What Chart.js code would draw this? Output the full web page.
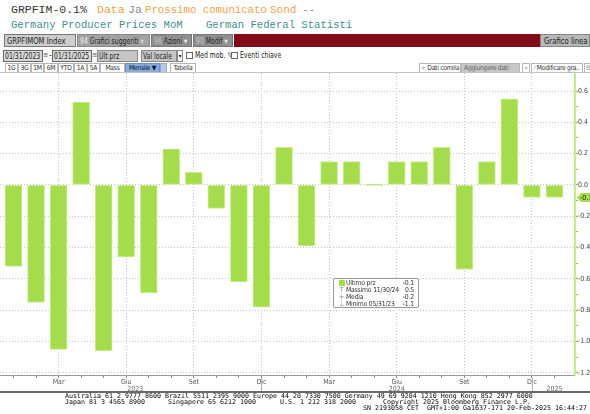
<!DOCTYPE html>
<html lang="it">
<head>
<meta charset="UTF-8">
<title>GRPFIMOM Index</title>
<script src="https://cdn.jsdelivr.net/npm/chart.js"></script>
<style>
  body { margin:0; width:590px; height:414px; position:relative; overflow:hidden; background:#fff; }
  .a { position:absolute; white-space:nowrap; }
  .mono { font-family:"Liberation Mono","DejaVu Sans Mono",monospace; }
  .ui { font-family:"DejaVu Sans Condensed",sans-serif; font-stretch:condensed; font-size:8.5px; line-height:12px; color:#222; box-sizing:border-box; overflow:hidden; }
  .sq { display:inline-block; transform:scaleX(0.8); transform-origin:0 50%; }
  .btn { font-family:"DejaVu Sans Condensed",sans-serif; font-stretch:condensed; font-size:6.8px; letter-spacing:-0.3px; line-height:8px; color:#333; box-sizing:border-box; border:1px solid #b5b5b5; background:#fff; text-align:center; height:10px; top:63px; overflow:hidden; }
  .foot { font-family:"DejaVu Sans Mono",monospace; font-size:6.65px; line-height:6px; color:#000; }
  #legend { position:absolute; left:333px; top:278px; width:86px; height:30px; box-sizing:border-box; border:1px solid #9a9a9a; border-radius:2px; background:#fff;
            font-family:"DejaVu Sans Condensed",sans-serif; font-size:6.8px; letter-spacing:-0.2px; color:#333; }
  #legend div { position:absolute; left:3px; right:4px; height:7px; line-height:7px; }
  #legend span.r { position:absolute; right:0; }
  #legend i { display:inline-block; width:9px; font-style:normal; color:#888; text-align:center; }
</style>
</head>
<body>
<!-- intestazione -->
<div class="a mono" style="left:11px;top:3px;font-size:11.5px;line-height:14px;color:#333">GRPFIM-0.1%</div>
<div class="a mono" style="left:97px;top:3px;font-size:11.5px;line-height:14px;color:#f3a04c">Data</div>
<div class="a mono" style="left:128px;top:3px;font-size:11.5px;line-height:14px;color:#8a8a8a">Ja</div>
<div class="a mono" style="left:145px;top:3px;font-size:10.7px;line-height:14px;color:#f3a04c">Prossimo comunicato</div>
<div class="a mono" style="left:270px;top:3px;font-size:11px;line-height:14px;color:#f3a04c">Sond</div>
<div class="a mono" style="left:302px;top:3px;font-size:11px;line-height:14px;color:#8a8a8a">--</div>
<div class="a mono" style="left:11px;top:18px;font-size:10.6px;line-height:14px;color:#3f8f92">Germany Producer Prices MoM</div>
<div class="a mono" style="left:206px;top:18px;font-size:10.6px;line-height:14px;color:#3f8f92">German Federal Statisti</div>

<!-- barra strumenti -->
<div class="a ui" style="left:4px;top:34px;width:72px;height:13px;background:#cdcdcd;border:1px solid #777;padding-left:2px"><span class="sq" style="transform:scaleX(0.9)">GRPFIMOM Index</span></div>
<div class="a ui" style="left:77px;top:34px;width:73px;height:13px;background:#a2a2a2;border:1px solid #888;padding-left:2px"><span class="sq"><span style="color:#eee">94</span> Grafici suggeriti <span style="color:#ddd">▾</span></span></div>
<div class="a ui" style="left:151px;top:34px;width:41px;height:13px;background:#8f8f8f;border:1px solid #777;padding-left:2px"><span class="sq"><span style="color:#ccc">96</span> Azioni <span style="color:#eee">▾</span></span></div>
<div class="a ui" style="left:193px;top:34px;width:40px;height:13px;background:#8f8f8f;border:1px solid #777;padding-left:2px"><span class="sq"><span style="color:#ccc">90</span> Modif <span style="color:#eee">▾</span></span></div>
<div class="a" style="left:234px;top:34px;width:306px;height:13px;background:#820a19"></div>
<div class="a ui" style="left:540px;top:34px;width:50px;height:13px;background:#b8b8b8;border:1px solid #888;padding-left:3px"><span class="sq" style="transform:scaleX(0.9)">Grafico linea</span></div>

<div class="a ui" style="left:3px;top:50px;width:40px;height:12px;line-height:10px;background:#dadada;border:1px solid #666;padding-left:1px"><span class="sq">01/31/2023</span></div>
<div class="a ui" style="left:43px;top:50px;width:5px;height:12px;line-height:10px;font-size:7px;color:#555">≡</div>
<div class="a ui" style="left:49px;top:50px;line-height:10px">-</div>
<div class="a ui" style="left:52px;top:50px;width:40px;height:12px;line-height:10px;background:#dadada;border:1px solid #666;padding-left:1px"><span class="sq">01/31/2025</span></div>
<div class="a ui" style="left:92px;top:50px;width:5px;height:12px;line-height:10px;font-size:7px;color:#555">≡</div>
<div class="a ui" style="left:97px;top:50px;width:41px;height:12px;line-height:10px;background:#c6c6c6;border:1px solid #888;padding-left:1px"><span class="sq">Ult prz</span></div>
<div class="a ui" style="left:141px;top:50px;width:36px;height:12px;line-height:10px;background:#c6c6c6;border:1px solid #888;padding-left:1px"><span class="sq">Val locale</span></div>
<div class="a ui" style="left:177px;top:50px;width:6px;height:12px;line-height:10px;background:#fff;border:1px solid #888;font-size:6px;text-align:center">▾</div>
<div class="a ui" style="left:186px;top:52px;width:7px;height:7px;border:1px solid #666;background:#fff"></div>
<div class="a ui" style="left:195px;top:50px;line-height:11px;overflow:visible"><span class="sq">Med mob. <span style="color:#666">✎</span></span></div>
<div class="a ui" style="left:231px;top:52px;width:7px;height:7px;border:1px solid #666;background:#fff"></div>
<div class="a ui" style="left:240px;top:50px;line-height:11px;overflow:visible"><span class="sq">Eventi chiave</span></div>

<div class="a btn" style="left:5px;width:13px">1G</div>
<div class="a btn" style="left:18px;width:13px">3G</div>
<div class="a btn" style="left:31px;width:13px">1M</div>
<div class="a btn" style="left:44px;width:14px">6M</div>
<div class="a btn" style="left:58px;width:16px">YTD</div>
<div class="a btn" style="left:74px;width:13px">1A</div>
<div class="a btn" style="left:87px;width:13px">5A</div>
<div class="a btn" style="left:100px;width:25px">Mass</div>
<div class="a btn" style="left:125px;width:35px;background:#86acdd;border-color:#6f8fbf;color:#112">Mensile ▼</div>
<div class="a btn" style="left:160px;width:7px;background:#b5cbee;border-color:#9ab"></div>
<div class="a btn" style="left:170px;width:26px">Tabella</div>
<div class="a btn" style="left:419px;width:42px"><span style="color:#aaa">+</span> Dati correla</div>
<div class="a btn" style="left:461px;width:59px;background:#c7c7c7;color:#666;text-align:left;padding-left:2px">Aggiungere dati</div>
<div class="a btn" style="left:522px;width:8px;color:#999">«</div>
<div class="a btn" style="left:531px;width:52px"><span style="color:#999">⁄</span> Modificare gra..</div>
<div class="a btn" style="left:584px;width:8px;color:#999">⚙</div>
<div class="a" style="left:0;top:72px;width:590px;height:1px;background:#c2c2c2"></div>

<canvas id="grafico" class="a" style="left:0;top:73px" width="590" height="319"></canvas>

<div id="legend">
  <div style="top:1px"><i><span style="display:inline-block;width:6px;height:6px;background:#a5dc4b;vertical-align:-1px"></span></i>Ultimo prz<span class="r">-0.1</span></div>
  <div style="top:8px"><i>T</i>Massimo 11/30/24<span class="r">0.5</span></div>
  <div style="top:15px"><i>+</i>Media<span class="r">-0.2</span></div>
  <div style="top:22px"><i>⊥</i>Minimo 05/31/23<span class="r">-1.1</span></div>
</div>

<!-- piè di pagina -->
<div class="a" style="left:0;top:391px;width:590px;height:2px;background:#6a6a6a"></div>
<div class="a foot" style="left:65px;top:393px">Australia 61 2 9777 8600 Brazil 5511 2395 9000 Europe 44 20 7330 7500 Germany 49 69 9204 1210 Hong Kong 852 2977 6000</div>
<div class="a foot" style="left:65px;top:399px">Japan 81 3 4565 8900</div>
<div class="a foot" style="left:168px;top:399px">Singapore 65 6212 1000</div>
<div class="a foot" style="left:280px;top:399px">U.S. 1 212 318 2000</div>
<div class="a foot" style="left:383px;top:399px">Copyright 2025 Bloomberg Finance L.P.</div>
<div class="a foot" style="left:363px;top:405px">SN 2193058 CET&nbsp; GMT+1:00 Ga1637-171 20-Feb-2025 16:44:27</div>

<script>
  // variazione mensile, gen 2023 - gen 2025
  const mesi = ['Gen','Feb','Mar','Apr','Mag','Giu','Lug','Ago','Set','Ott','Nov','Dic',
                'Gen','Feb','Mar','Apr','Mag','Giu','Lug','Ago','Set','Ott','Nov','Dic','Gen'];
  const valori = [-0.52, -0.75, -1.05, 0.53, -1.06, -0.46, -0.69, 0.23, 0.08, -0.15, -0.62, -0.78,
                  0.24, -0.39, 0.15, 0.15, 0.0, 0.15, 0.15, 0.24, -0.54, 0.15, 0.55, -0.08, -0.08];
  // mesi con etichetta sull'asse (trimestrali)
  const mesiEtichetta = ['Mar','Giu','Set','Dic'];
  const anni = ['2023', '2024', '2025'];
  const posAnni = [5.4, 17, 24];
  const fineAnno = [11, 23];
  const tickY = [-1.2, -1.1, -1.0, -0.9, -0.8, -0.7, -0.6, -0.5, -0.4, -0.3, -0.2, -0.1, 0.0, 0.1, 0.2, 0.3, 0.4, 0.5, 0.6];

  const verde = '#a5dc4b';
  const isTrim = i => mesiEtichetta.includes(mesi[i]);
  const isMajor = v => Math.round(v * 10) % 2 === 0;

  // etichetta ultimo valore sull'asse destro + separatori anno
  const extra = {
    id: 'extra',
    afterDraw(c) {
      const ctx = c.ctx, y = c.scales.y, x = c.scales.x, a = c.chartArea;
      const ultimo = valori[valori.length - 1];
      const py = Math.round(y.getPixelForValue(ultimo)) + 0.5;
      ctx.save();
      ctx.fillStyle = verde;
      ctx.beginPath();
      ctx.moveTo(a.right + 2, py);
      ctx.lineTo(a.right + 6, py - 4.5);
      ctx.lineTo(590, py - 4.5);
      ctx.lineTo(590, py + 4.5);
      ctx.lineTo(a.right + 6, py + 4.5);
      ctx.closePath();
      ctx.fill();
      ctx.fillStyle = '#223';
      ctx.font = '7px "DejaVu Sans Condensed", sans-serif';
      ctx.textBaseline = 'middle';
      ctx.fillText(ultimo.toFixed(1), a.right + 5, py + 0.5);
      ctx.strokeStyle = '#b0b0b0';
      ctx.lineWidth = 1;
      fineAnno.forEach(i => {
        const px = Math.round(x.getPixelForValue(i)) + 0.5;
        ctx.beginPath();
        ctx.moveTo(px, a.bottom + 3);
        ctx.lineTo(px, c.height);
        ctx.stroke();
      });
      ctx.restore();
    }
  };

  new Chart(document.getElementById('grafico'), {
    type: 'bar',
    data: {
      datasets: [{
        data: valori.map((v, i) => ({ x: i, y: v })),
        backgroundColor: verde,
        borderColor: '#caef97',
        borderWidth: 1,
        borderSkipped: false,
        barThickness: 17,
        minBarLength: 1
      }]
    },
    options: {
      responsive: false,
      animation: false,
      layout: { padding: 0, autoPadding: false },
      plugins: { legend: { display: false }, tooltip: { enabled: false } },
      scales: {
        x: {
          type: 'linear',
          position: 'bottom',
          offset: false,
          min: -0.6,
          max: 24.91,
          bounds: 'data',
          afterBuildTicks: s => { s.ticks = valori.map((v, i) => ({ value: i })); },
          afterFit: s => { s.height = 10; s.paddingLeft = 0; s.paddingRight = 0; },
          ticks: {
            autoSkip: false, maxRotation: 0, padding: 0,
            color: '#555', font: { family: 'DejaVu Sans Condensed', size: 7 },
            callback: v => isTrim(v) ? mesi[v] : ''
          },
          grid: {
            offset: false,
            color: c => c.tick && isTrim(c.tick.value) ? '#c6c6c6' : 'rgba(0,0,0,0)',
            tickColor: '#8a8a8a', tickLength: 3
          },
          border: { display: true, color: '#9c9c9c', width: 1, dash: [1, 2] }
        },
        x2: {
          type: 'linear',
          position: 'bottom',
          offset: false,
          min: -0.6,
          max: 24.91,
          bounds: 'data',
          afterBuildTicks: s => { s.ticks = posAnni.map(p => ({ value: p })); },
          afterFit: s => { s.height = 7; s.paddingLeft = 0; s.paddingRight = 0; },
          ticks: {
            autoSkip: false, maxRotation: 0, padding: 0,
            color: '#666', font: { family: 'DejaVu Sans Condensed', size: 7 },
            callback: (v, i) => anni[i]
          },
          grid: { display: false, drawTicks: false },
          border: { display: false }
        },
        y: {
          type: 'linear',
          position: 'right',
          min: -1.214,
          max: 0.715,
          bounds: 'data',
          afterBuildTicks: s => { s.ticks = tickY.map(v => ({ value: v })); },
          afterFit: s => { s.width = 15; s.paddingTop = 0; s.paddingBottom = 0; },
          ticks: {
            padding: 0, color: '#444', font: { family: 'DejaVu Sans Condensed', size: 7 },
            callback: v => isMajor(v) ? v.toFixed(1) : ''
          },
          grid: {
            color: c => c.tick && isMajor(c.tick.value) ? '#c6c6c6' : 'rgba(0,0,0,0)',
            tickColor: '#8fd03a', tickLength: 3,
            tickWidth: c => c.tick && isMajor(c.tick.value) ? 1.5 : 1
          },
          border: { display: true, color: '#c4ea96', width: 2, dash: [1, 2] }
        }
      }
    },
    plugins: [extra]
  });
</script>
</body>
</html>
